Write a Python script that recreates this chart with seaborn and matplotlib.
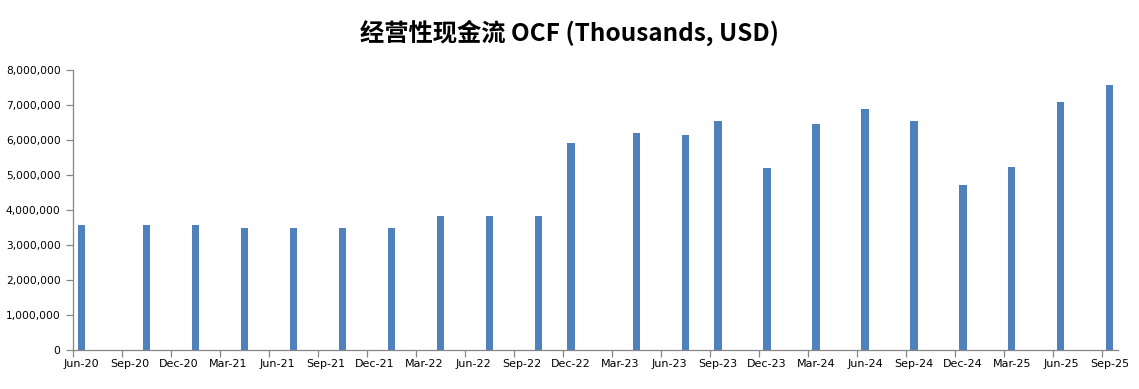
import numpy as np
import pandas as pd
import matplotlib
matplotlib.use("Agg")
import matplotlib.pyplot as plt
import matplotlib.ticker as mticker
import seaborn as sns

# ---- data (thousands USD) ----
bar_months = ["2020-06", "2020-10", "2021-01", "2021-04", "2021-07", "2021-10",
              "2022-01", "2022-04", "2022-07", "2022-10", "2022-12", "2023-04",
              "2023-07", "2023-09", "2023-12", "2024-03", "2024-06", "2024-09",
              "2024-12", "2025-03", "2025-06", "2025-09"]
ocf_values = [3588000, 3588000, 3588000, 3494000, 3494000, 3494000,
              3494000, 3845000, 3845000, 3845000, 5927000, 6204000,
              6155000, 6555000, 5205000, 6460000, 6897000, 6546000,
              4720000, 5234000, 7088000, 7581000]
axis_start = "2020-06"
axis_end = "2025-09"
title = "经营性现金流 OCF (Thousands, USD)"

# monthly date axis (one slot per month)
periods = pd.period_range(axis_start, axis_end, freq="M")
all_months = [str(p) for p in periods]
month_labels = [p.strftime("%b-%y") for p in periods]

df = pd.DataFrame({"month": bar_months, "ocf": ocf_values})

sns.set_style("white")
plt.rcParams["font.family"] = ["DejaVu Sans", "Noto Sans CJK SC"]
plt.rcParams["text.color"] = "black"

fig = plt.figure(figsize=(11.39, 3.89), dpi=100)
ax = fig.add_axes([0.0641, 0.099, 0.9175, 0.721])

sns.barplot(data=df, x="month", y="ocf", order=all_months, color="#4F81BD",
            saturation=1, width=0.44, linewidth=0, edgecolor="none", ax=ax)

ax.set_xlim(-0.5, len(all_months) - 0.5)
ax.set_ylim(0, 8000000)
ax.yaxis.set_major_locator(mticker.MultipleLocator(1000000))
ax.yaxis.set_major_formatter(mticker.FuncFormatter(lambda v, p: f"{int(v):,}"))

label_pos = list(range(0, len(all_months), 3))
ax.set_xticks(label_pos)
ax.set_xticklabels([month_labels[i] for i in label_pos])
ax.set_xticks(np.arange(-0.5, len(all_months) - 1, 3), minor=True)
ax.tick_params(axis="x", which="major", length=0, pad=6, labelsize=8, labelcolor="#000000")
ax.tick_params(axis="x", which="minor", length=5, width=0.9, color="#868686", direction="out")
ax.tick_params(axis="y", which="major", length=5, width=0.9, color="#868686",
               direction="out", pad=4, labelsize=7.7, labelcolor="#000000")
ax.tick_params(axis="both", bottom=True, left=True, which="both")

for s in ["top", "right"]:
    ax.spines[s].set_visible(False)
for s in ["left", "bottom"]:
    ax.spines[s].set_color("#868686")
    ax.spines[s].set_linewidth(0.9)

ax.set_xlabel("")
ax.set_ylabel("")
ax.grid(False)

fig.text(0.5, 0.915, title, ha="center", va="center", fontsize=17.5,
         fontweight="bold", color="black",
         family=["Noto Sans CJK SC", "DejaVu Sans"])

fig.savefig("out.png", dpi=100)
